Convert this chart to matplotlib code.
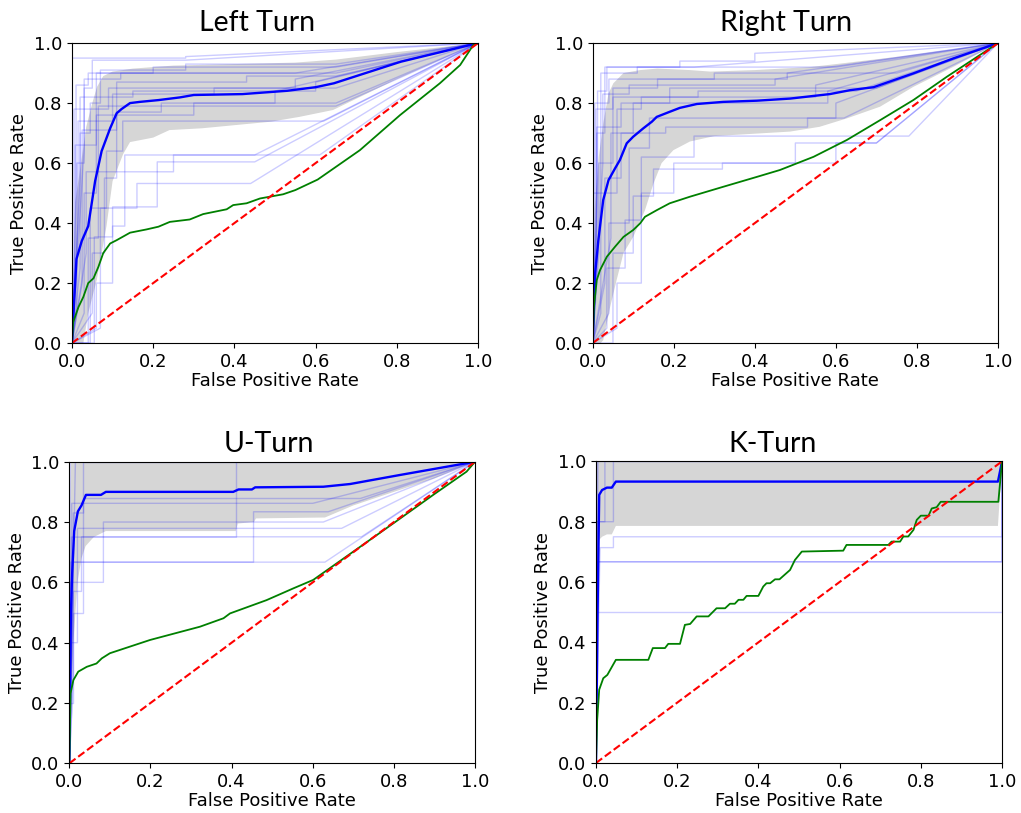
import matplotlib
matplotlib.use('Agg')
import matplotlib.pyplot as plt
import numpy as np

# ---------------- Left Turn ----------------
left_mean_fpr = [0, 0.011, 0.024, 0.04, 0.057, 0.073, 0.094, 0.11, 0.122, 0.143, 0.167, 0.213,
                 0.266, 0.30, 0.42, 0.53, 0.60, 0.645, 0.81, 1.0]
left_mean_tpr = [0, 0.28, 0.34, 0.39, 0.54, 0.64, 0.716, 0.766, 0.78, 0.80, 0.804, 0.81,
                 0.819, 0.827, 0.83, 0.841, 0.853, 0.866, 0.938, 1.0]
left_upper_fpr = [0, 0.008, 0.02, 0.035, 0.05, 0.062, 0.077, 0.1, 0.15, 0.25, 0.4, 0.55, 0.65, 0.8, 1.0]
left_upper_tpr = [0, 0.47, 0.58, 0.72, 0.80, 0.855, 0.89, 0.905, 0.915, 0.925, 0.93, 0.935, 0.945, 0.97, 1.0]
left_lower_fpr = [0, 0.028, 0.04, 0.061, 0.085, 0.10, 0.126, 0.143, 0.2, 0.24, 0.32, 0.49, 0.56, 0.643, 0.8, 1.0]
left_lower_tpr = [0, 0.0, 0.1, 0.21, 0.39, 0.54, 0.63, 0.67, 0.685, 0.71, 0.716, 0.738, 0.754, 0.777, 0.88, 1.0]
left_green_fpr = [0, 0.003, 0.016, 0.028, 0.04, 0.053, 0.065, 0.077, 0.094, 0.11, 0.143, 0.184, 0.213,
                  0.241, 0.29, 0.323, 0.381, 0.397, 0.43, 0.463, 0.52, 0.55, 0.605, 0.709, 0.808,
                  0.906, 0.956, 0.988, 1.0]
left_green_tpr = [0, 0.07, 0.12, 0.154, 0.2, 0.216, 0.254, 0.3, 0.332, 0.343, 0.368, 0.379, 0.388,
                  0.404, 0.412, 0.43, 0.446, 0.46, 0.466, 0.482, 0.496, 0.51, 0.545, 0.643, 0.76,
                  0.866, 0.927, 0.993, 1.0]
left_folds = [
    [(0, 0), (0, 0.95), (0.28, 0.95), (0.28, 0.955), (1, 1)],
    [(0, 0), (0.012, 0.12), (0.012, 0.6), (0.03, 0.6), (0.03, 0.85), (0.05, 0.85), (0.05, 0.943), (0.28, 0.943), (1, 1)],
    [(0, 0), (0.02, 0.25), (0.02, 0.7), (0.045, 0.7), (0.045, 0.8), (0.07, 0.8), (0.07, 0.91), (0.28, 0.91),
     (0.28, 0.93), (0.65, 0.93), (1, 1)],
    [(0, 0), (0.03, 0.1), (0.03, 0.5), (0.06, 0.5), (0.06, 0.9), (0.65, 0.9), (1, 1)],
    [(0, 0), (0.04, 0.0), (0.04, 0.35), (0.065, 0.35), (0.065, 0.79), (0.11, 0.79), (0.11, 0.87), (0.43, 0.87),
     (0.43, 0.89), (0.65, 0.89), (1, 1)],
    [(0, 0), (0.005, 0.2), (0.005, 0.78), (0.09, 0.78), (0.09, 0.85), (0.55, 0.85), (0.55, 0.88), (1, 1)],
    [(0, 0), (0.015, 0.4), (0.015, 0.74), (0.1, 0.74), (0.1, 0.83), (0.35, 0.83), (0.35, 0.85), (0.65, 0.85), (1, 1)],
    [(0, 0), (0.025, 0.2), (0.025, 0.71), (0.11, 0.71), (0.11, 0.77), (0.22, 0.77), (0.22, 0.8), (0.65, 0.8), (1, 1)],
    [(0, 0), (0.05, 0.1), (0.05, 0.3), (0.08, 0.3), (0.08, 0.55), (0.11, 0.55), (0.11, 0.79), (0.65, 0.79), (1, 1)],
    [(0, 0), (0.045, 0), (0.045, 0.45), (0.085, 0.45), (0.085, 0.64), (0.125, 0.64), (0.125, 0.74), (0.62, 0.74), (1, 1)],
    [(0, 0), (0.06, 0.05), (0.06, 0.2), (0.1, 0.2), (0.1, 0.39), (0.13, 0.39), (0.13, 0.627), (0.45, 0.627), (1, 1)],
    [(0, 0), (0.055, 0.0), (0.055, 0.354), (0.1, 0.354), (0.1, 0.454), (0.21, 0.454), (0.21, 0.604), (0.45, 0.604), (1, 1)],
    [(0, 0), (0.07, 0.05), (0.07, 0.45), (0.16, 0.45), (0.16, 0.532), (0.44, 0.532), (1, 1)],
    [(0, 0), (0.035, 0.3), (0.035, 0.571), (0.25, 0.571), (0.25, 0.627), (0.61, 0.627), (1, 1)],
    [(0, 0), (0.01, 0.5), (0.01, 0.86), (0.04, 0.86), (0.04, 0.9), (0.2, 0.9), (0.2, 0.92), (0.65, 0.92), (1, 1)],
    [(0, 0), (0.02, 0.55), (0.02, 0.82), (0.15, 0.82), (0.15, 0.84), (0.6, 0.84), (0.6, 0.87), (1, 1)],
    [(0, 0), (0.008, 0.3), (0.008, 0.66), (0.06, 0.66), (0.06, 0.76), (0.3, 0.76), (0.3, 0.8), (0.5, 0.8),
     (0.5, 0.84), (1, 1)],
    [(0, 0), (0.03, 0.65), (0.03, 0.88), (0.12, 0.88), (0.12, 0.9), (0.55, 0.9), (1, 1)],
]

# ---------------- Right Turn ----------------
right_mean_fpr = [0, 0.006, 0.014, 0.026, 0.039, 0.055, 0.067, 0.084, 0.1, 0.125, 0.146, 0.158, 0.19,
                  0.215, 0.257, 0.322, 0.405, 0.487, 0.585, 0.635, 0.693, 0.791, 0.89, 1.0]
right_mean_tpr = [0, 0.232, 0.343, 0.477, 0.543, 0.582, 0.61, 0.666, 0.688, 0.716, 0.738, 0.754, 0.771,
                  0.784, 0.797, 0.804, 0.808, 0.815, 0.83, 0.843, 0.853, 0.899, 0.949, 1.0]
right_upper_fpr = [0, 0.005, 0.015, 0.026, 0.039, 0.051, 0.076, 0.117, 0.16, 0.24, 0.29, 0.4, 0.536, 0.6, 0.75, 1.0]
right_upper_tpr = [0, 0.45, 0.62, 0.732, 0.832, 0.866, 0.9, 0.91, 0.915, 0.91, 0.905, 0.91, 0.92, 0.93, 0.954, 1.0]
right_lower_fpr = [0, 0.02, 0.026, 0.043, 0.059, 0.076, 0.1, 0.129, 0.15, 0.17, 0.199, 0.24, 0.3, 0.4,
                   0.487, 0.56, 0.627, 0.709, 0.791, 0.89, 1.0]
right_lower_tpr = [0, 0.0, 0.01, 0.12, 0.21, 0.3, 0.354, 0.443, 0.532, 0.6, 0.643, 0.672, 0.69, 0.698,
                   0.705, 0.721, 0.749, 0.788, 0.854, 0.921, 1.0]
right_green_fpr = [0, 0.003, 0.01, 0.018, 0.035, 0.055, 0.076, 0.1, 0.117, 0.129, 0.158, 0.19, 0.24,
                   0.322, 0.405, 0.462, 0.545, 0.627, 0.709, 0.791, 0.874, 1.0]
right_green_tpr = [0, 0.12, 0.21, 0.243, 0.288, 0.321, 0.354, 0.377, 0.399, 0.421, 0.443, 0.466, 0.488,
                   0.521, 0.554, 0.577, 0.621, 0.677, 0.743, 0.81, 0.888, 1.0]
right_folds = [
    [(0, 0), (0.01, 0.3), (0.01, 0.7), (0.03, 0.7), (0.03, 0.92), (0.215, 0.92), (0.215, 0.94), (0.4, 0.94),
     (0.4, 0.966), (1, 1)],
    [(0, 0), (0, 0.5), (0.02, 0.5), (0.02, 0.9), (0.11, 0.9), (0.11, 0.92), (0.6, 0.92), (1, 1)],
    [(0, 0), (0.005, 0.2), (0.005, 0.8), (0.04, 0.8), (0.04, 0.88), (0.3, 0.88), (0.3, 0.9), (0.75, 0.9), (1, 1)],
    [(0, 0), (0.015, 0.3), (0.015, 0.6), (0.05, 0.6), (0.05, 0.85), (0.16, 0.85), (0.16, 0.88), (0.48, 0.88),
     (0.48, 0.9), (1, 1)],
    [(0, 0), (0.02, 0.1), (0.02, 0.5), (0.06, 0.5), (0.06, 0.78), (0.12, 0.78), (0.12, 0.82), (0.55, 0.82),
     (0.55, 0.86), (1, 1)],
    [(0, 0), (0.03, 0.2), (0.03, 0.55), (0.07, 0.55), (0.07, 0.7), (0.1, 0.7), (0.1, 0.8), (0.58, 0.8),
     (0.58, 0.84), (1, 1)],
    [(0, 0), (0.04, 0.1), (0.04, 0.4), (0.09, 0.4), (0.09, 0.65), (0.14, 0.65), (0.14, 0.75), (0.6, 0.75),
     (0.6, 0.8), (1, 1)],
    [(0, 0), (0.05, 0), (0.05, 0.3), (0.1, 0.3), (0.1, 0.49), (0.15, 0.49), (0.15, 0.58), (0.32, 0.58),
     (0.32, 0.6), (0.6, 0.6), (0.6, 0.667), (0.7, 0.667), (1, 1)],
    [(0, 0), (0.035, 0.05), (0.035, 0.25), (0.08, 0.25), (0.08, 0.41), (0.12, 0.41), (0.12, 0.62), (0.25, 0.62),
     (0.25, 0.69), (0.78, 0.69), (1, 1)],
    [(0, 0), (0.01, 0.4), (0.01, 0.72), (0.07, 0.72), (0.07, 0.8), (0.19, 0.8), (0.19, 0.85), (0.7, 0.85), (1, 1)],
    [(0, 0), (0.025, 0.6), (0.025, 0.83), (0.09, 0.83), (0.09, 0.86), (0.45, 0.86), (0.45, 0.88), (1, 1)],
    [(0, 0), (0.008, 0.45), (0.008, 0.78), (0.05, 0.78), (0.05, 0.82), (0.26, 0.82), (0.26, 0.84), (0.65, 0.84), (1, 1)],
    [(0, 0), (0.06, 0.05), (0.06, 0.2), (0.12, 0.2), (0.12, 0.5), (0.2, 0.5), (0.2, 0.6), (0.5, 0.6),
     (0.5, 0.667), (0.7, 0.667), (1, 1)],
    [(0, 0), (0.045, 0.35), (0.045, 0.7), (0.18, 0.7), (0.18, 0.72), (0.53, 0.72), (0.53, 0.75), (0.62, 0.75), (1, 1)],
    [(0, 0), (0.012, 0.55), (0.012, 0.84), (0.035, 0.84), (0.035, 0.92), (0.25, 0.92), (1, 1)],
]

# ---------------- U-Turn ----------------
u_mean_fpr = [0, 0.002, 0.004, 0.007, 0.012, 0.021, 0.03, 0.041, 0.078, 0.09, 0.404, 0.417, 0.45, 0.458,
              0.626, 0.692, 0.815, 1.0]
u_mean_tpr = [0, 0.3, 0.5, 0.63, 0.77, 0.835, 0.855, 0.89, 0.89, 0.9, 0.9, 0.908, 0.908, 0.915,
              0.917, 0.926, 0.956, 1.0]
u_upper_fpr = [0, 0.002, 0.004, 1.0]
u_upper_tpr = [0, 0.7, 1.0, 1.0]
u_lower_fpr = [0, 0.003, 0.01, 0.02, 0.03, 0.04, 0.06, 0.09, 0.41, 0.415, 0.455, 0.46, 0.63, 0.7, 0.8, 0.9, 1.0]
u_lower_tpr = [0, 0.1, 0.4, 0.6, 0.68, 0.72, 0.75, 0.77, 0.77, 0.795, 0.8, 0.812, 0.815, 0.855, 0.9, 0.945, 1.0]
u_green_fpr = [0, 0.003, 0.01, 0.022, 0.043, 0.067, 0.08, 0.1, 0.199, 0.322, 0.38, 0.396, 0.486, 0.552,
               0.601, 0.7, 0.8, 0.9, 0.979, 1.0]
u_green_tpr = [0, 0.232, 0.276, 0.304, 0.32, 0.331, 0.348, 0.365, 0.409, 0.453, 0.481, 0.497, 0.541, 0.58,
               0.608, 0.702, 0.797, 0.893, 0.967, 1.0]
u_folds = [
    [(0, 0), (0, 0.2), (0.01, 0.2), (0.01, 0.5), (0.033, 0.5), (0.033, 1.0), (1, 1)],
    [(0, 0), (0.005, 0.4), (0.005, 0.75), (0.412, 0.75), (0.412, 1.0), (1, 1)],
    [(0, 0), (0.01, 0.3), (0.01, 0.83), (0.035, 0.83), (0.035, 0.878), (0.717, 0.878), (1, 1)],
    [(0, 0), (0.006, 0.17), (0.006, 0.862), (0.6, 0.862), (1, 1)],
    [(0, 0), (0.003, 0.667), (0.454, 0.667), (0.454, 0.834), (0.638, 0.834), (1, 1)],
    [(0, 0), (0.008, 0.667), (0.63, 0.667), (1, 1)],
    [(0, 0), (0.002, 0.5), (0.002, 0.6), (0.084, 0.6), (0.084, 0.8), (0.626, 0.8), (1, 1)],
    [(0, 0), (0.004, 0.4), (0.02, 0.4), (0.02, 0.779), (0.671, 0.779), (1, 1)],
    [(0, 0), (0.01, 0.57), (0.03, 0.57), (0.03, 0.751), (0.72, 0.751), (1, 1)],
    [(0, 0), (0.002, 0.9), (0.002, 1.0), (1, 1)],
    [(0, 0), (0.015, 1.0), (1, 1)],
]

# ---------------- K-Turn ----------------
k_mean_fpr = [0, 0.004, 0.008, 0.015, 0.027, 0.039, 0.049, 0.99, 1.0]
k_mean_tpr = [0, 0.5, 0.889, 0.905, 0.913, 0.913, 0.933, 0.933, 1.0]
k_upper_fpr = [0, 0.002, 1.0]
k_upper_tpr = [0, 1.0, 1.0]
k_lower_fpr = [0, 0.008, 0.015, 0.027, 0.039, 0.049, 0.99, 1.0]
k_lower_tpr = [0, 0.74, 0.75, 0.758, 0.758, 0.786, 0.786, 1.0]
k_green_fpr = [0, 0.003, 0.008, 0.018, 0.028, 0.049, 0.129, 0.14, 0.17, 0.178, 0.207, 0.219, 0.232, 0.248,
               0.277, 0.297, 0.318, 0.33, 0.342, 0.351, 0.363, 0.371, 0.4, 0.412, 0.42, 0.429, 0.441,
               0.452, 0.478, 0.49, 0.507, 0.609, 0.617, 0.72, 0.728, 0.749, 0.757, 0.769, 0.782, 0.79,
               0.8, 0.819, 0.827, 0.839, 0.849, 0.991, 1.0]
k_green_tpr = [0, 0.143, 0.243, 0.281, 0.292, 0.342, 0.342, 0.381, 0.381, 0.395, 0.395, 0.458, 0.461, 0.486,
               0.486, 0.513, 0.513, 0.528, 0.528, 0.541, 0.541, 0.554, 0.554, 0.585, 0.596, 0.596, 0.609,
               0.609, 0.64, 0.673, 0.701, 0.704, 0.723, 0.723, 0.734, 0.734, 0.751, 0.751, 0.773, 0.806,
               0.82, 0.82, 0.844, 0.848, 0.866, 0.866, 1.0]
k_folds = [
    [(0, 0), (0, 0.5), (1, 0.5), (1, 1)],
    [(0, 0), (0.003, 0.667), (1, 0.667), (1, 1)],
    [(0, 0), (0.003, 0.667), (1, 0.667), (1, 1)],
    [(0, 0), (0.01, 0.714), (0.043, 0.714), (0.043, 0.75), (1, 0.75), (1, 1)],
    [(0, 0), (0.003, 0.8), (0.022, 0.8), (0.022, 1.0), (1, 1)],
    [(0, 0), (0.002, 0.8), (0.043, 0.8), (0.043, 1.0), (1, 1)],
    [(0, 0), (0.005, 1.0), (1, 1)],
    [(0, 0), (0.002, 1.0), (1, 1)],
]

titles = ['Left Turn', 'Right Turn', 'U-Turn', 'K-Turn']
panels = [
    (left_folds, left_mean_fpr, left_mean_tpr, left_upper_fpr, left_upper_tpr,
     left_lower_fpr, left_lower_tpr, left_green_fpr, left_green_tpr),
    (right_folds, right_mean_fpr, right_mean_tpr, right_upper_fpr, right_upper_tpr,
     right_lower_fpr, right_lower_tpr, right_green_fpr, right_green_tpr),
    (u_folds, u_mean_fpr, u_mean_tpr, u_upper_fpr, u_upper_tpr,
     u_lower_fpr, u_lower_tpr, u_green_fpr, u_green_tpr),
    (k_folds, k_mean_fpr, k_mean_tpr, k_upper_fpr, k_upper_tpr,
     k_lower_fpr, k_lower_tpr, k_green_fpr, k_green_tpr),
]

# axes boxes [left, bottom, width, height] and title anchor points (figure fraction)
boxes = [[0.0705, 0.578, 0.3977, 0.369],
         [0.5805, 0.578, 0.3970, 0.369],
         [0.0679, 0.0611, 0.3974, 0.371],
         [0.5837, 0.0615, 0.3977, 0.371]]
title_pos = [(0.252, 0.972), (0.770, 0.972), (0.263, 0.454), (0.757, 0.454)]


def draw_panel(ax, folds, mfpr, mtpr, ufpr, utpr, lfpr, ltpr, gfpr, gtpr):
    for fold in folds:
        xs, ys = zip(*fold)
        ax.plot(xs, ys, color='b', lw=1, alpha=0.2)
    band_x = list(ufpr) + list(lfpr)[::-1]
    band_y = list(utpr) + list(ltpr)[::-1]
    ax.fill(band_x, band_y, color='grey', alpha=0.32, lw=0)
    ax.plot(mfpr, mtpr, color='b', lw=1.7)
    ax.plot(gfpr, gtpr, color='g', lw=1.3)
    ax.plot([0, 1], [0, 1], 'r--', lw=1.5)
    ax.set_xlim(0, 1)
    ax.set_ylim(0, 1)
    ax.set_xticks(np.arange(0, 1.01, 0.2))
    ax.set_yticks(np.arange(0, 1.01, 0.2))
    ax.tick_params(labelsize=13)
    ax.set_xlabel('False Positive Rate', fontsize=13, labelpad=1)
    ax.set_ylabel('True Positive Rate', fontsize=13, labelpad=4)


fig = plt.figure(figsize=(10.21, 8.13), dpi=100)
for box, name, pos, data in zip(boxes, titles, title_pos, panels):
    ax = fig.add_axes(box)
    draw_panel(ax, *data)
    fig.text(pos[0], pos[1], name, ha='center', va='center', fontsize=20.5, family='Lato')

fig.savefig('out.png', dpi=100)
